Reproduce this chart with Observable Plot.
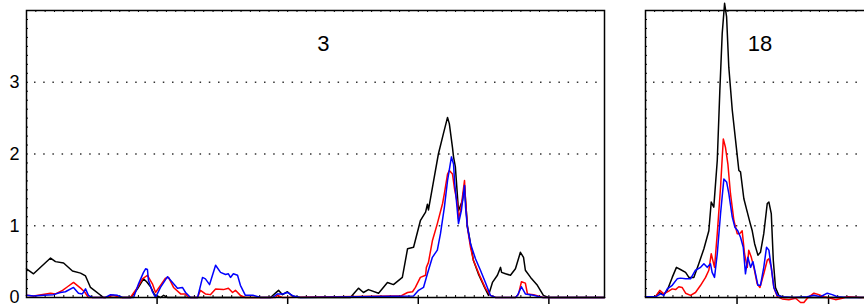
<!DOCTYPE html>
<html><head><meta charset="utf-8">
<script src="https://cdn.jsdelivr.net/npm/d3@7"></script>
<script src="https://cdn.jsdelivr.net/npm/@observablehq/plot@0.6"></script>
<style>
body{margin:0;background:#fff;}
#wrap{width:864px;height:304px;overflow:hidden;display:flex;}
#wrap svg{flex:none;display:block;}
</style></head><body><div id="wrap"></div>
<script>
// Panel "3"
const p3_black_x = [0,2.7,9.2,11.1,14.2,17.6,20.7,22.6,24.5,29.5,40.0,42.5,44.8,46.0,47.5,49.0,51.3,52.5,54.0,93.4,96.5,98.0,99.9,101.8,104.1,124.0,127.1,129.0,130.9,134.8,138.2,140.5,143.9,145.9,148.2,150.8,152.8,153.5,153.9,155.8,157.7,159.6,161.2,161.9,163.1,163.5,164.2,165.4,166.9,167.7,168.8,170.0,171.1,173.0,175.0,176.9,178.4,180.3,181.5,181.9,183.4,185.3,187.2,189.1,190.3,191.0,193.0,195.6,197.9,199.8,221.3];
const p3_black_y = [0.40,0.33,0.55,0.50,0.48,0.37,0.34,0.30,0.14,0.00,0.00,0.12,0.26,0.22,0.15,0.04,0.00,0.03,0.00,0.00,0.10,0.04,0.08,0.02,0.00,0.00,0.13,0.07,0.11,0.06,0.21,0.18,0.28,0.68,0.70,1.07,1.19,1.30,1.22,1.61,2.00,2.28,2.51,2.42,2.09,1.96,1.82,1.21,1.35,1.56,1.00,0.75,0.52,0.33,0.17,0.03,0.21,0.31,0.42,0.35,0.33,0.31,0.40,0.63,0.56,0.38,0.28,0.17,0.03,0.00,0.00];
const p3_red_x = [0,2.7,9.2,11.1,13.8,15.7,18.0,20.7,22.2,23.7,30.2,33.3,36.0,39.8,42.5,44.4,46.3,48.2,49.4,51.3,53.2,54.4,56.3,59.0,60.9,62.0,65.5,66.6,68.5,70.4,72.4,75.4,77.3,78.9,80.0,81.9,83.8,95.3,96.1,98.0,139.3,143.2,145.9,147.8,148.9,150.8,152.8,153.1,153.9,155.4,157.3,159.3,160.0,161.2,161.9,163.1,163.9,165.0,165.4,166.2,166.9,167.7,168.1,168.8,170.0,171.1,173.8,175.7,177.6,179.6,187.2,188.4,189.5,191.0,191.8,194.1,197.9,221.3];
const p3_red_y = [0.03,0.02,0.06,0.05,0.10,0.15,0.21,0.13,0.08,0.00,0.00,0.03,0.00,0.00,0.14,0.26,0.31,0.19,0.07,0.17,0.27,0.28,0.14,0.05,0.05,0.00,0.00,0.10,0.05,0.04,0.12,0.11,0.13,0.07,0.10,0.03,0.00,0.00,0.03,0.00,0.02,0.02,0.07,0.08,0.14,0.28,0.31,0.42,0.49,0.79,1.03,1.31,1.45,1.72,1.77,1.72,1.51,1.31,1.10,1.21,1.40,1.63,1.35,0.98,0.70,0.52,0.28,0.13,0.03,0.00,0.00,0.05,0.22,0.20,0.05,0.04,0.00,0.00];
const p3_blue_x = [0,2.7,6.5,10.3,13.0,14.9,18.0,19.9,21.4,22.6,23.7,25.3,30.2,32.2,34.8,36.8,41.0,42.9,44.8,45.6,46.3,46.7,48.2,49.4,51.3,54.0,55.9,57.8,59.7,60.9,62.8,65.5,67.4,68.5,70.1,72.4,74.3,76.2,77.3,78.1,79.2,80.8,81.9,83.8,86.9,89.6,94.2,96.1,98.0,99.9,102.2,104.9,148.2,150.1,152.0,153.5,155.4,157.3,158.5,160.0,161.2,162.7,163.5,163.9,164.6,165.4,166.5,167.7,168.1,168.8,170.0,171.9,173.8,175.7,177.6,179.6,187.2,188.0,189.5,191.0,194.1,197.5,221.3];
const p3_blue_y = [0.03,0.02,0.03,0.04,0.07,0.08,0.14,0.06,0.05,0.12,0.03,0.00,0.00,0.04,0.03,0.00,0.00,0.19,0.35,0.40,0.39,0.24,0.08,0.00,0.14,0.29,0.21,0.13,0.14,0.07,0.00,0.00,0.28,0.26,0.18,0.45,0.35,0.32,0.33,0.28,0.33,0.31,0.17,0.03,0.03,0.00,0.00,0.05,0.05,0.07,0.02,0.00,0.02,0.10,0.14,0.33,0.56,0.66,0.89,1.26,1.63,1.96,1.86,1.61,1.35,1.03,1.21,1.56,1.26,0.98,0.75,0.54,0.38,0.21,0.03,0.00,0.00,0.03,0.15,0.05,0.03,0.00,0.00];

// Panel "18"
const p18_black_x = [0,5.5,7.3,10.0,11.9,14.6,16.9,19.1,21.9,23.7,26.4,29.1,31.9,34.6,35.9,37.3,39.2,40.6,41.9,43.2,44.3,45.5,47.4,49.2,51.0,51.9,53.7,55.6,57.0,58.3,59.6,61.4,62.8,64.6,66.5,67.4,68.7,69.8,71.0,72.8,75.4,130];
const p18_black_y = [0.01,0.01,0.07,0.04,0.10,0.28,0.42,0.39,0.35,0.28,0.28,0.47,0.68,0.93,1.33,1.26,1.91,2.88,3.68,4.10,3.91,3.21,2.61,2.19,1.77,1.75,1.38,1.19,1.05,0.93,0.75,0.59,0.63,0.89,1.31,1.33,1.17,0.52,0.14,0.03,0.00,0.00];
const p18_red_x = [0,5.5,7.8,10.0,12.7,14.6,16.4,18.2,20.0,21.9,24.6,27.3,30.1,32.8,34.6,35.9,37.7,39.2,41.0,42.5,43.7,45.0,46.4,48.3,50.1,51.5,52.8,54.1,55.6,56.4,57.8,59.2,61.0,62.5,64.6,66.5,67.4,68.7,70.1,72.0,74.7,78.3,82.0,84.7,86.5,88.4,92.0,94.7,97.4,101.1,103.8,107.5,110.2,117.5,130];
const p18_red_y = [0.01,0.01,0.10,0.05,0.09,0.12,0.11,0.15,0.14,0.06,0.03,0.07,0.17,0.28,0.38,0.61,0.42,0.89,1.54,2.21,2.09,1.86,1.45,1.07,0.89,0.89,0.93,0.61,0.42,0.66,0.56,0.42,0.19,0.14,0.33,0.52,0.54,0.42,0.14,0.01,-0.02,-0.03,-0.01,-0.07,-0.07,-0.01,0.06,0.04,0.01,-0.01,-0.03,-0.01,0.01,0.00,0.01];
const p18_blue_x = [0,5.5,8.2,10.0,11.9,14.6,17.3,19.1,21.9,24.6,27.3,30.1,31.9,33.7,35.5,36.4,37.7,39.2,41.0,42.8,44.3,45.5,47.4,48.8,50.4,51.9,53.4,54.6,55.9,57.4,58.7,60.1,61.4,62.8,64.6,66.1,67.4,68.7,70.1,72.0,74.7,81.0,88.4,92.0,95.6,99.3,102.0,104.8,110.2,117.5,130];
const p18_blue_y = [0.01,0.01,0.05,0.03,0.12,0.17,0.26,0.27,0.26,0.26,0.38,0.42,0.47,0.42,0.47,0.35,0.28,0.61,1.17,1.65,1.61,1.45,1.12,0.98,0.93,0.84,0.70,0.33,0.56,0.42,0.50,0.33,0.17,0.17,0.42,0.70,0.66,0.42,0.14,0.03,0.01,0.00,0.01,0.03,0.01,0.06,0.04,0.01,0.00,0.00,0.03];

const yTicks = [0, 1, 2, 3];
const gridValues = [1, 2, 3];
const xMajorTicks = [50, 100, 150, 200];
const panelLabels = ["3", "18"];

const zip = (xs, ys) => xs.map((x, i) => ({x, y: ys[i]}));

function panel({width, marginLeft, xMax, series, label, labelX, showY, minorStep}) {
  const marginTop = 10, marginBottom = 7, marginRight = 20, height = 304;
  const plotH = height - marginTop - marginBottom;
  const plotW = width - marginLeft - marginRight;
  const minorX = d3.range(0, xMax, minorStep);
  const minorY = d3.range(0, 4, 0.125);
  const marks = [
    Plot.ruleY(gridValues, {stroke: "#333", strokeWidth: 1.4, strokeDasharray: "1.5,7.7", strokeDashoffset: 1.2}),
    Plot.tickX(minorX, {x: d => d, insetBottom: plotH - 2, stroke: "#000", strokeWidth: 1}),
    Plot.tickX(minorX, {x: d => d, insetTop: plotH - 2, stroke: "#000", strokeWidth: 1}),
    Plot.tickY(minorY, {y: d => d, insetRight: plotW - 2, stroke: "#000", strokeWidth: 1}),
    Plot.axisX({ticks: xMajorTicks.filter(t => t < xMax), tickSize: 9, tickFormat: () => "", label: null, strokeWidth: 1.5}),
  ];
  if (showY) marks.push(Plot.axisY({ticks: yTicks, tickSize: 0, tickPadding: 7, fontSize: 18, fill: "#000", label: null, tickFormat: d3.format("d")}));
  series.forEach(s => marks.push(Plot.lineY(s.data, {x: "x", y: "y", stroke: s.color, strokeWidth: 1.5})));
  marks.push(Plot.frame({stroke: "#000", strokeWidth: 1.5}));
  marks.push(Plot.text([label], {x: labelX, y: 3.54, text: d => d, fontSize: 22, fill: "#000"}));
  return Plot.plot({
    width, height, marginTop, marginBottom, marginLeft, marginRight,
    x: {domain: [0, xMax], axis: null, label: null},
    y: {domain: [0, 4], axis: null, label: null},
    style: {fontFamily: "'Liberation Sans', Arial, sans-serif", background: "white", color: "#000"},
    marks
  });
}

const wrap = document.getElementById("wrap");
wrap.appendChild(panel({
  width: 624, marginLeft: 26, xMax: 221.3, label: panelLabels[0], labelX: 113.7, showY: true, minorStep: 50/14,
  series: [
    {data: zip(p3_black_x, p3_black_y), color: "#000000"},
    {data: zip(p3_red_x, p3_red_y), color: "#ff0000"},
    {data: zip(p3_blue_x, p3_blue_y), color: "#0000ff"}
  ]
}));
wrap.appendChild(panel({
  width: 279, marginLeft: 21, xMax: 130, label: panelLabels[1], labelX: 62.6, showY: false, minorStep: 5,
  series: [
    {data: zip(p18_black_x, p18_black_y), color: "#000000"},
    {data: zip(p18_red_x, p18_red_y), color: "#ff0000"},
    {data: zip(p18_blue_x, p18_blue_y), color: "#0000ff"}
  ]
}));
</script>
</body></html>
